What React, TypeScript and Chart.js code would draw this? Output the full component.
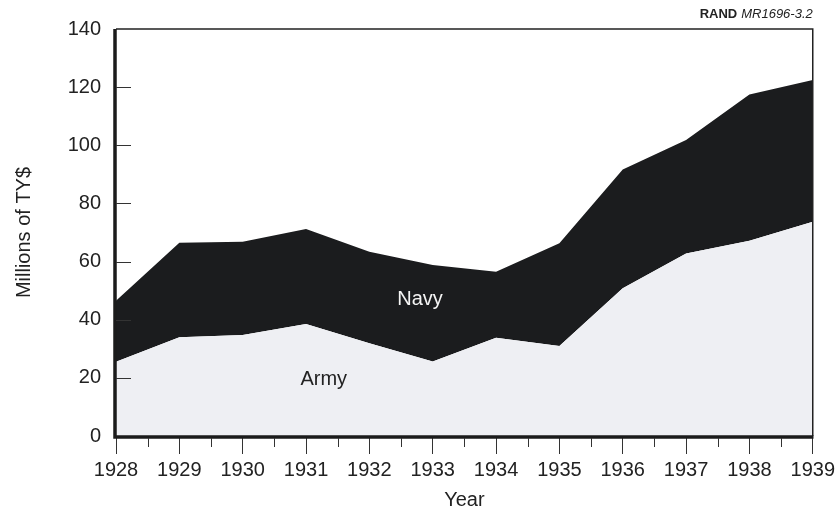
import React, { useEffect, useRef } from "react";
import { Chart, registerables } from "chart.js";

Chart.register(...registerables);

// ---- data ----
const years = [1928, 1929, 1930, 1931, 1932, 1933, 1934, 1935, 1936, 1937, 1938, 1939];
const army = [25.5, 34.0, 34.7, 38.5, 31.9, 25.6, 33.8, 31.0, 50.8, 62.8, 67.2, 73.7];
const navy = [21.0, 32.5, 32.1, 32.7, 31.5, 33.2, 22.7, 35.3, 40.9, 39.0, 50.3, 48.8];
const yTicks = [0, 20, 40, 60, 80, 100, 120, 140];
const seriesLabels = ["Army", "Navy"];
const yTitle = "Millions of TY$";
const xTitle = "Year";
const sourceBold = "RAND";
const sourceItalic = "MR1696-3.2";

// label anchors in data coordinates
const annotations = [
  { text: "Navy", x: 1932.8, y: 47.1, color: "#f4f4f4" },
  { text: "Army", x: 1931.28, y: 19.6, color: "#222222" },
];

const FONT = "'Liberation Sans', Arial, Helvetica, sans-serif";
const INK = "#222222";

const overlayPlugin = {
  id: "overlay",
  afterDraw(chart: any) {
    const { ctx, chartArea: a, scales } = chart;
    const xs = scales.x;
    const ys = scales.y;
    ctx.save();
    ctx.strokeStyle = INK;
    // top and right frame
    ctx.lineWidth = 1.5;
    ctx.beginPath();
    ctx.moveTo(a.left, a.top);
    ctx.lineTo(a.right, a.top);
    ctx.lineTo(a.right, a.bottom);
    ctx.stroke();
    // thick left and bottom axis lines
    ctx.strokeStyle = "#1b1b1b";
    ctx.lineWidth = 3.5;
    ctx.beginPath();
    ctx.moveTo(a.left - 1, a.top);
    ctx.lineTo(a.left - 1, a.bottom + 1);
    ctx.lineTo(a.right + 0.75, a.bottom + 1);
    ctx.stroke();
    // inner y ticks
    ctx.lineWidth = 1;
    ctx.strokeStyle = "#333";
    ctx.beginPath();
    yTicks.forEach((v) => {
      if (v <= 0 || v >= 140) return;
      const py = Math.round(ys.getPixelForValue(v)) + 0.5;
      ctx.moveTo(a.left, py);
      ctx.lineTo(a.left + 15, py);
    });
    // minor x ticks at half-years
    years.slice(0, -1).forEach((yr) => {
      const px = Math.round(xs.getPixelForValue(yr + 0.5)) + 0.5;
      ctx.moveTo(px, a.bottom + 2);
      ctx.lineTo(px, a.bottom + 11);
    });
    ctx.stroke();
    // area labels
    ctx.font = `20px ${FONT}`;
    ctx.textAlign = "center";
    ctx.textBaseline = "middle";
    annotations.forEach((an) => {
      ctx.fillStyle = an.color;
      ctx.fillText(an.text, xs.getPixelForValue(an.x), ys.getPixelForValue(an.y));
    });
    // source note
    ctx.textBaseline = "alphabetic";
    ctx.textAlign = "right";
    ctx.fillStyle = INK;
    ctx.font = `italic 13px ${FONT}`;
    ctx.fillText(sourceItalic, a.right, 18);
    const w = ctx.measureText(sourceItalic).width;
    ctx.font = `bold 13px ${FONT}`;
    ctx.fillText(sourceBold, a.right - w - 4, 18);
    ctx.restore();
  },
};

export default function App() {
  const ref = useRef<HTMLCanvasElement | null>(null);

  useEffect(() => {
    if (!ref.current) return;
    Chart.defaults.font.family = FONT;
    const chart = new Chart(ref.current, {
      type: "line",
      data: {
        datasets: [
          {
            label: seriesLabels[0],
            data: years.map((yr, i) => ({ x: yr, y: army[i] })),
            backgroundColor: "#eeeff3",
            borderWidth: 0,
            pointRadius: 0,
            fill: "origin",
            tension: 0,
          },
          {
            label: seriesLabels[1],
            data: years.map((yr, i) => ({ x: yr, y: navy[i] })),
            backgroundColor: "#1b1c1e",
            borderWidth: 0,
            pointRadius: 0,
            fill: "-1",
            tension: 0,
          },
        ],
      },
      options: {
        animation: false,
        responsive: false,
        events: [],
        layout: { padding: { top: 29, right: 25, left: 0, bottom: 0 } },
        plugins: {
          legend: { display: false },
          tooltip: { enabled: false },
          title: { display: false },
        },
        scales: {
          x: {
            type: "linear",
            min: 1928,
            max: 1939,
            afterFit: (s: any) => {
              s.height = 74;
            },
            afterBuildTicks: (s: any) => {
              s.ticks = years.map((v) => ({ value: v }));
            },
            ticks: {
              autoSkip: false,
              maxRotation: 0,
              padding: 4,
              color: INK,
              font: { size: 20, family: FONT },
              callback: (v: any) => String(v),
            },
            grid: {
              display: true,
              drawOnChartArea: false,
              drawTicks: true,
              tickLength: 18,
              tickColor: "#333",
              tickWidth: 1,
            },
            border: { display: false },
            title: {
              display: true,
              text: xTitle,
              color: INK,
              font: { size: 20, family: FONT },
              padding: { top: 0, bottom: -2 },
            },
          },
          y: {
            type: "linear",
            stacked: true,
            min: 0,
            max: 140,
            afterFit: (s: any) => {
              s.width = 116;
            },
            afterBuildTicks: (s: any) => {
              s.ticks = yTicks.map((v) => ({ value: v }));
            },
            ticks: {
              padding: 15,
              color: INK,
              font: { size: 20, family: FONT },
              callback: (v: any) => String(v),
            },
            grid: { display: false, drawTicks: false },
            border: { display: false },
            title: {
              display: true,
              text: yTitle,
              color: INK,
              font: { size: 20, family: FONT },
              padding: { top: 12, bottom: 0 },
            },
          },
        },
      },
      plugins: [overlayPlugin],
    } as any);
    return () => chart.destroy();
  }, []);

  return (
    <div style={{ position: "absolute", left: 0, top: 0, width: 839, height: 510, background: "#fff" }}>
      <canvas ref={ref} width={839} height={510} />
    </div>
  );
}
